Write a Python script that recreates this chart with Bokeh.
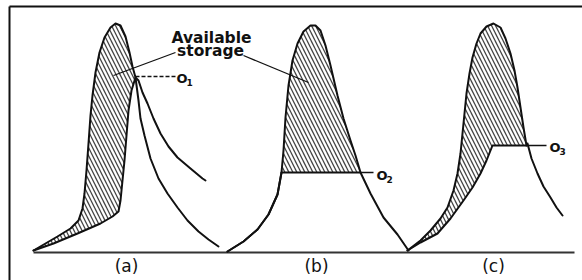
from bokeh.plotting import figure
from bokeh.models import Range1d
from bokeh.core.properties import value
from bokeh.embed import file_html
from bokeh.resources import INLINE

# time (px-like units) and discharge values
# (a) inflow and outflow hydrographs
a_in_t = [33, 45, 57, 70, 78, 82, 84, 86, 88, 90, 92, 95, 99, 104, 110, 115, 120, 125, 129, 132, 135,
          138, 140, 144, 150, 158, 167, 177, 187, 198, 208, 218]
a_in_q = [2, 9, 16, 24, 32, 44, 59, 82, 109, 137, 157, 180, 200, 215, 225, 229, 227, 216, 200, 186, 175,
          152, 134, 117, 94, 74, 59, 45, 32, 21, 13, 6]
a_out_t = [33, 53, 77, 100, 112, 118, 120, 122, 124, 126, 128, 131, 135,
           138, 142, 147, 153, 160, 168, 177, 190, 202, 205]
a_out_q = [2, 9, 19, 29, 36, 41, 52, 72, 92, 117, 142, 162, 175,
           172, 160, 149, 134, 119, 106, 95, 84, 74, 72]

# (b) inflow and outflow hydrographs
b_in_t = [227, 243, 257, 268, 277, 281, 283, 285, 288, 292, 297, 303, 310, 315, 320, 325, 330, 337, 343,
          350, 355, 360, 370, 383, 397, 408]
b_in_q = [1, 11, 23, 38, 58, 80, 102, 135, 167, 192, 209, 221, 227, 227, 222, 207, 187, 157, 134,
          112, 97, 80, 59, 35, 18, 2]
b_out_t = [227, 243, 257, 268, 277, 281, 360]
b_out_q = [1, 11, 23, 38, 58, 80, 80]

# (c) inflow and outflow hydrographs
c_in_t = [407, 420, 430, 440, 447, 453, 457, 460, 462, 464, 466, 469, 472, 476, 480, 486, 493, 500, 505,
          510, 514, 517, 520, 523, 526, 527, 531, 537, 543, 550, 556, 562]
c_in_q = [2, 12, 22, 34, 45, 62, 79, 99, 119, 139, 159, 179, 195, 209, 219, 226, 229, 225, 214,
          199, 182, 165, 145, 125, 107, 109, 94, 79, 66, 55, 45, 37]
c_out_t = [407, 420, 437, 450, 463, 472, 480, 486, 492, 526]
c_out_q = [2, 10, 19, 34, 52, 65, 79, 92, 107, 107]

panel_labels = ["(a)", "(b)", "(c)"]
panel_x = [126, 316, 493]
outflow_names = ["O", "O", "O"]
outflow_subs = ["1", "2", "3"]
outflow_x = [176, 376, 549]
outflow_q = [174, 77, 105]

INK = "#111111"

p = figure(width=582, height=280, x_range=Range1d(0, 582), y_range=Range1d(-28, 252),
           min_border=0, toolbar_location=None, output_backend="svg",
           x_axis_location=None, y_axis_location=None)
p.grid.visible = False
p.outline_line_color = None
p.background_fill_color = "white"
p.border_fill_color = "white"

# frame (left and top)
p.line([9, 9], [-28, 246], line_color=INK, line_width=2)
p.line([9, 582], [246, 246], line_color=INK, line_width=2)

# baseline
p.line([33, 574], [0, 0], line_color="#333333", line_width=2)

hatch = dict(fill_color=None, line_color=None, hatch_pattern="left_diagonal_line",
             hatch_color="#444444", hatch_scale=8, hatch_weight=1.3)

# (a) hatched storage: between inflow rising limb and outflow rising limb
ka = a_in_t.index(135)
ko = a_out_t.index(135)
pa_x = a_in_t[:ka + 1] + a_out_t[:ko + 1][::-1]
pa_y = a_in_q[:ka + 1] + a_out_q[:ko + 1][::-1]
p.patch(pa_x, pa_y, **hatch)

# (b) hatched storage: inflow above the flat outflow
kb0 = b_in_t.index(281)
kb1 = b_in_t.index(360)
p.patch(b_in_t[kb0:kb1 + 1], b_in_q[kb0:kb1 + 1], **hatch)

# (c) hatched storage
kc = c_in_t.index(526)
pc_x = c_in_t[:kc + 1] + c_out_t[::-1]
pc_y = c_in_q[:kc + 1] + c_out_q[::-1]
p.patch(pc_x, pc_y, **hatch)

# curves
for t, q in [(a_in_t, a_in_q), (a_out_t, a_out_q), (b_in_t, b_in_q), (b_out_t, b_out_q),
             (c_in_t, c_in_q), (c_out_t, c_out_q)]:
    p.line(t, q, line_color=INK, line_width=2, line_join="round", line_cap="round")

# outflow peak leaders
p.line([135, 175], [176, 176], line_color=INK, line_width=1.3, line_dash="4 2")
p.line([360, 373], [80, 80], line_color=INK, line_width=1.5)
p.line([526, 546], [107, 107], line_color=INK, line_width=1.5)

# "Available storage" leaders
p.line([113, 175], [177, 200], line_color=INK, line_width=1.3)
p.line([243, 308], [197, 170], line_color=INK, line_width=1.3)

p.text(x=[211, 210], y=[215, 202], text=["Available", "storage"],
       text_font=value("DejaVu Sans"), text_font_style="bold", text_font_size="15.5px",
       text_align="center", text_baseline="middle", text_color=INK)

p.text(x=outflow_x, y=outflow_q, text=outflow_names,
       text_font=value("DejaVu Sans"), text_font_style="bold", text_font_size="13px",
       text_align="left", text_baseline="middle", text_color=INK)
p.text(x=[x + 10 for x in outflow_x], y=[q - 4 for q in outflow_q], text=outflow_subs,
       text_font=value("DejaVu Sans"), text_font_style="bold", text_font_size="9px",
       text_align="left", text_baseline="middle", text_color=INK)

p.text(x=panel_x, y=[-13, -13, -13], text=panel_labels,
       text_font=value("DejaVu Sans"), text_font_size="17px",
       text_align="center", text_baseline="middle", text_color=INK)

open("out.html", "w").write(file_html(p, INLINE))
